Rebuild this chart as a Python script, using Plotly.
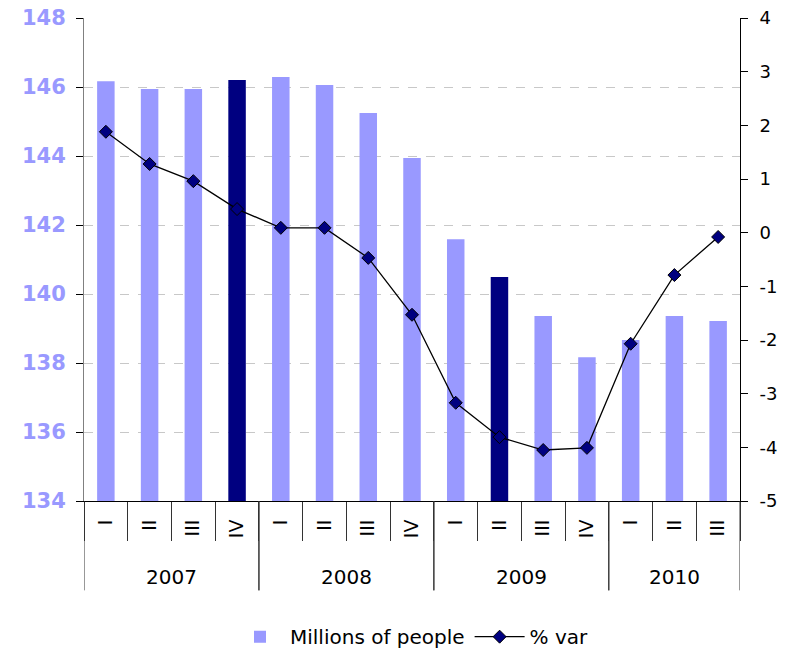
import plotly.graph_objects as go

years = ["2007"] * 4 + ["2008"] * 4 + ["2009"] * 4 + ["2010"] * 3
quarters = ["I", "II", "III", "IV", "I", "II", "III", "IV", "I", "II", "III", "IV", "I", "II", "III"]
millions = [146.17, 145.94, 145.94, 146.20, 146.29, 146.06, 145.25, 143.94,
            141.59, 140.49, 139.36, 138.17, 138.67, 139.36, 139.22]
pct_var = [1.88, 1.28, 0.96, 0.44, 0.09, 0.09, -0.47, -1.53,
           -3.17, -3.81, -4.05, -4.01, -2.07, -0.79, -0.08]
highlight = [False, False, False, True, False, False, False, False,
             False, True, False, False, False, False, False]
right_ticks = [4, 3, 2, 1, 0, -1, -2, -3, -4, -5]

n = len(quarters)
xs = list(range(n))
bar_colors = ["#000080" if h else "#9999FF" for h in highlight]

fig = go.Figure()
fig.add_trace(go.Bar(
    x=xs, y=millions, name="Millions of people",
    marker=dict(color=bar_colors, line=dict(width=0)),
    width=0.4, yaxis="y",
))
fig.add_trace(go.Scatter(
    x=xs, y=pct_var, name="% var", mode="lines+markers",
    line=dict(color="black", width=1.3),
    marker=dict(symbol="diamond", size=10, color="#000080", line=dict(color="black", width=1)),
    yaxis="y2",
))

# year groups: boundaries and centres derived from the category lists
groups = []
start = 0
for i in range(1, n + 1):
    if i == n or years[i] != years[start]:
        groups.append((years[start], start, i - 1))
        start = i

shapes = []
annotations = []
for label, a, b in groups:
    annotations.append(dict(
        x=(a + b) / 2, y=-0.158, xref="x", yref="paper", text=label, showarrow=False,
        font=dict(size=20, color="black", family="DejaVu Sans"), yanchor="middle",
    ))
    for edge in (a - 0.5, b + 0.5):
        shapes.append(dict(
            type="line", xref="x", yref="paper", x0=edge, x1=edge, y0=0, y1=-0.185,
            line=dict(color="#333333", width=1),
        ))

fig.update_layout(
    width=796, height=653,
    margin=dict(l=84, r=56, t=18, b=152),
    plot_bgcolor="white", paper_bgcolor="white",
    font=dict(family="DejaVu Sans", size=17, color="black"),
    showlegend=True,
    legend=dict(orientation="h", x=0.5, xanchor="center", yref="container", y=0.025,
                yanchor="middle", itemwidth=50,
                font=dict(size=20, family="DejaVu Sans")),
    shapes=shapes,
    annotations=annotations,
    xaxis=dict(
        range=[-0.5, n - 0.5], tickvals=xs, ticktext=quarters, tickangle=-90,
        showline=True, linecolor="black", linewidth=1, ticks="",
        ticklabelstandoff=10,
        minor=dict(tickvals=[i - 0.5 for i in range(n + 1)], ticks="outside",
                   ticklen=39, tickcolor="#333333", showgrid=False),
        tickfont=dict(size=19, color="black"), automargin=False, showgrid=False,
        zeroline=False,
    ),
    yaxis=dict(
        range=[134, 148], dtick=2, showline=True, linecolor="#808080", linewidth=1,
        ticks="outside", ticklen=7, tickcolor="black", ticklabelstandoff=6,
        showgrid=True, gridcolor="#C8C8C8", griddash="dash", gridwidth=1,
        tickfont=dict(size=21, color="#9999FF", family="DejaVu Sans", weight="bold"),
        zeroline=False, automargin=False,
    ),
    yaxis2=dict(
        range=[-5, 4], tickvals=right_ticks, ticktext=[str(v) for v in right_ticks],
        overlaying="y", side="right", showline=True,
        linecolor="black", linewidth=1, ticks="outside", ticklen=7, tickcolor="black",
        ticklabelstandoff=8,
        showgrid=False, zeroline=False, tickfont=dict(size=18, color="black"),
        automargin=False,
    ),
)

fig.write_html("out.html")
